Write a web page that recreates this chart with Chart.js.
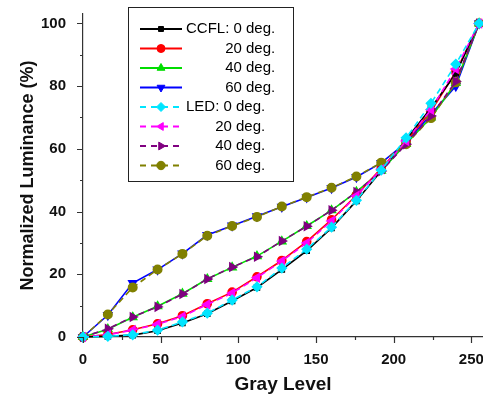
<!DOCTYPE html>
<html>
<head>
<meta charset="utf-8">
<script src="https://cdn.jsdelivr.net/npm/chart.js@4/dist/chart.umd.min.js"></script>
<style>
  html, body { margin: 0; padding: 0; background: #ffffff; }
  #wrap { width: 483px; height: 397px; }
</style>
</head>
<body>
<div id="wrap"><canvas id="c" width="483" height="397"></canvas></div>
<script>
// ---- data ----
const grayLevels = [0, 16, 32, 48, 64, 80, 96, 112, 128, 144, 160, 176, 192, 208, 224, 240, 255];

const ccfl0  = [0, 0.2, 0.6, 2.0, 4.5, 7.4, 11.5, 15.8, 21.5, 27.5, 34.8, 43.4, 53.0, 63.0, 73.0, 84.0, 100];
const ccfl20 = [0, 0.8, 2.3, 4.2, 6.8, 10.6, 14.3, 19.2, 24.4, 30.4, 37.4, 45.2, 53.8, 62.4, 72.0, 84.5, 100];
const ccfl40 = [0, 2.5, 6.3, 9.8, 13.8, 18.5, 22.2, 25.8, 30.5, 35.4, 40.4, 46.3, 53.0, 61.6, 70.0, 81.0, 100];
const ccfl60 = [0, 7.0, 17.2, 21.5, 26.6, 32.5, 35.5, 38.5, 41.5, 44.5, 47.5, 51.0, 55.5, 62.0, 71.0, 80.0, 100];

const led0  = [0, 0.2, 0.7, 2.2, 4.8, 7.6, 11.8, 16.0, 22.0, 28.0, 35.0, 43.6, 53.2, 63.5, 74.5, 87.0, 100];
const led20 = [0, 0.7, 2.2, 4.1, 6.5, 10.4, 14.0, 18.9, 24.2, 30.0, 37.0, 45.0, 53.5, 62.5, 72.5, 85.5, 100];
const led40 = [0, 2.6, 6.4, 9.6, 13.7, 18.5, 22.3, 25.6, 30.6, 35.3, 40.4, 46.2, 52.9, 61.5, 70.5, 81.5, 100];
const led60 = [0, 7.2, 15.8, 21.5, 26.5, 32.3, 35.4, 38.3, 41.6, 44.6, 47.6, 51.2, 55.6, 61.5, 69.8, 81.2, 100];

const seriesLabels = ['CCFL: 0 deg.', '20 deg.', '40 deg.', '60 deg.', 'LED: 0 deg.', '20 deg.', '40 deg.', '60 deg.'];
const xTickValues = [0, 50, 100, 150, 200, 250];
const yTickValues = [0, 20, 40, 60, 80, 100];
const xAxisTitle = 'Gray Level';
const yAxisTitle = 'Normalized Luminance (%)';

// ---- styles ----
const seriesValues = [ccfl0, ccfl20, ccfl40, ccfl60, led0, led20, led40, led60];
const colors = ['#000000', '#ff0000', '#00dd00', '#0000ff', '#00e5ff', '#ff00ff', '#800080', '#808000'];
const styles = [
  {pointStyle: 'rect', rotation: 0, radius: 3.5},
  {pointStyle: 'circle', rotation: 0, radius: 4},
  {pointStyle: 'triangle', rotation: 0, radius: 4.5},
  {pointStyle: 'triangle', rotation: 180, radius: 4.5},
  {pointStyle: 'rectRot', rotation: 0, radius: 4.5},
  {pointStyle: 'triangle', rotation: -90, radius: 4.5},
  {pointStyle: 'triangle', rotation: 90, radius: 4.5},
  {pointStyle: 'circle', rotation: 0, radius: 4.2}
];

const datasets = seriesValues.map((vals, i) => ({
  label: seriesLabels[i],
  data: grayLevels.map((g, j) => ({x: g, y: vals[j]})),
  borderColor: colors[i],
  backgroundColor: colors[i],
  pointBackgroundColor: colors[i],
  pointBorderColor: colors[i],
  pointStyle: styles[i].pointStyle,
  pointRotation: styles[i].rotation,
  pointRadius: styles[i].radius,
  borderWidth: 1.6,
  borderDash: i >= 4 ? [6, 4] : [],
  tension: 0,
  fill: false,
  clip: false,
  order: i >= 4 ? 0 : 1
}));

const FONT = '"Liberation Sans", Arial, Helvetica, sans-serif';

// tick marks (major + minor, outward)
const tickMarks = {
  id: 'tickMarks',
  afterDraw(chart) {
    const ctx = chart.ctx;
    const xs = chart.scales.x, ys = chart.scales.y;
    const area = chart.chartArea;
    ctx.save();
    ctx.strokeStyle = '#333';
    ctx.lineWidth = 1.2;
    ctx.beginPath();
    for (let v = 0; v <= 100; v += 10) {
      const y = Math.round(ys.getPixelForValue(v)) + 0.5;
      const len = (v % 20 === 0) ? 6 : 3;
      ctx.moveTo(area.left, y); ctx.lineTo(area.left - len, y);
    }
    for (let v = 0; v <= 250; v += 25) {
      const x = Math.round(xs.getPixelForValue(v)) + 0.5;
      const len = (v % 50 === 0) ? 6 : 3;
      ctx.moveTo(x, area.bottom); ctx.lineTo(x, area.bottom + len);
    }
    ctx.stroke();
    ctx.restore();
  }
};

function drawMarker(ctx, st, color, x, y) {
  ctx.save();
  ctx.fillStyle = color;
  ctx.strokeStyle = color;
  ctx.lineWidth = 1;
  ctx.setLineDash([]);
  if (Chart.helpers && Chart.helpers.drawPoint) {
    Chart.helpers.drawPoint(ctx, {pointStyle: st.pointStyle, rotation: st.rotation, radius: st.radius, borderWidth: 1}, x, y);
  }
  ctx.restore();
}

// legend drawn inside plot area
const innerLegend = {
  id: 'innerLegend',
  afterDraw(chart) {
    const ctx = chart.ctx;
    const bx = 128.5, by = 7.5, bw = 165, bh = 174;
    ctx.save();
    ctx.fillStyle = '#ffffff';
    ctx.fillRect(bx, by, bw, bh);
    ctx.strokeStyle = '#222';
    ctx.lineWidth = 1;
    ctx.strokeRect(bx, by, bw, bh);
    ctx.font = '15px ' + FONT;
    ctx.textBaseline = 'middle';
    ctx.fillStyle = '#000';
    const textLeft = 186;
    const groupRight = [textLeft + ctx.measureText(seriesLabels[0]).width,
                        textLeft + ctx.measureText(seriesLabels[4]).width];
    chart.data.datasets.forEach((ds, i) => {
      const y = 29 + i * 19.5;
      ctx.save();
      ctx.strokeStyle = colors[i];
      ctx.lineWidth = 1.8;
      ctx.setLineDash(i >= 4 ? [6, 5] : []);
      ctx.beginPath();
      ctx.moveTo(140, y); ctx.lineTo(182, y);
      ctx.stroke();
      ctx.restore();
      drawMarker(ctx, styles[i], colors[i], 161, y);
      ctx.fillStyle = '#000';
      if (i === 0 || i === 4) {
        ctx.textAlign = 'left';
        ctx.fillText(ds.label, textLeft, y);
      } else {
        ctx.textAlign = 'right';
        ctx.fillText(ds.label, groupRight[i >= 4 ? 1 : 0], y);
      }
    });
    ctx.restore();
  }
};

new Chart(document.getElementById('c'), {
  type: 'line',
  data: { datasets },
  options: {
    responsive: false,
    devicePixelRatio: 1,
    animation: false,
    events: [],
    layout: { autoPadding: false, padding: { top: 14, right: 0, left: 0, bottom: 0 } },
    plugins: { legend: { display: false }, tooltip: { enabled: false } },
    scales: {
      x: {
        type: 'linear',
        min: 0,
        max: 257.5,
        grid: { display: false },
        border: { display: true, color: '#333', width: 1.2 },
        afterBuildTicks: (s) => { s.ticks = xTickValues.map(v => ({value: v})); },
        afterFit: (s) => { s.height = 60; s.paddingLeft = 0; s.paddingRight = 0; },
        ticks: { color: '#111', font: { family: FONT, size: 15, weight: 'bold' }, padding: 6, maxRotation: 0 },
        title: { display: true, text: xAxisTitle, color: '#111', font: { family: FONT, size: 19, weight: 'bold' }, padding: { top: 0, bottom: 1 } }
      },
      y: {
        type: 'linear',
        min: 0,
        max: 103,
        grid: { display: false },
        border: { display: true, color: '#333', width: 1.2 },
        afterBuildTicks: (s) => { s.ticks = yTickValues.map(v => ({value: v})); },
        afterFit: (s) => { s.width = 83; s.paddingTop = 0; s.paddingBottom = 0; },
        ticks: { color: '#111', font: { family: FONT, size: 15, weight: 'bold' }, padding: 9 },
        title: { display: true, text: yAxisTitle, color: '#111', font: { family: FONT, size: 18, weight: 'bold' }, padding: { top: 17, bottom: 0 } }
      }
    }
  },
  plugins: [tickMarks, innerLegend]
});
</script>
</body>
</html>
